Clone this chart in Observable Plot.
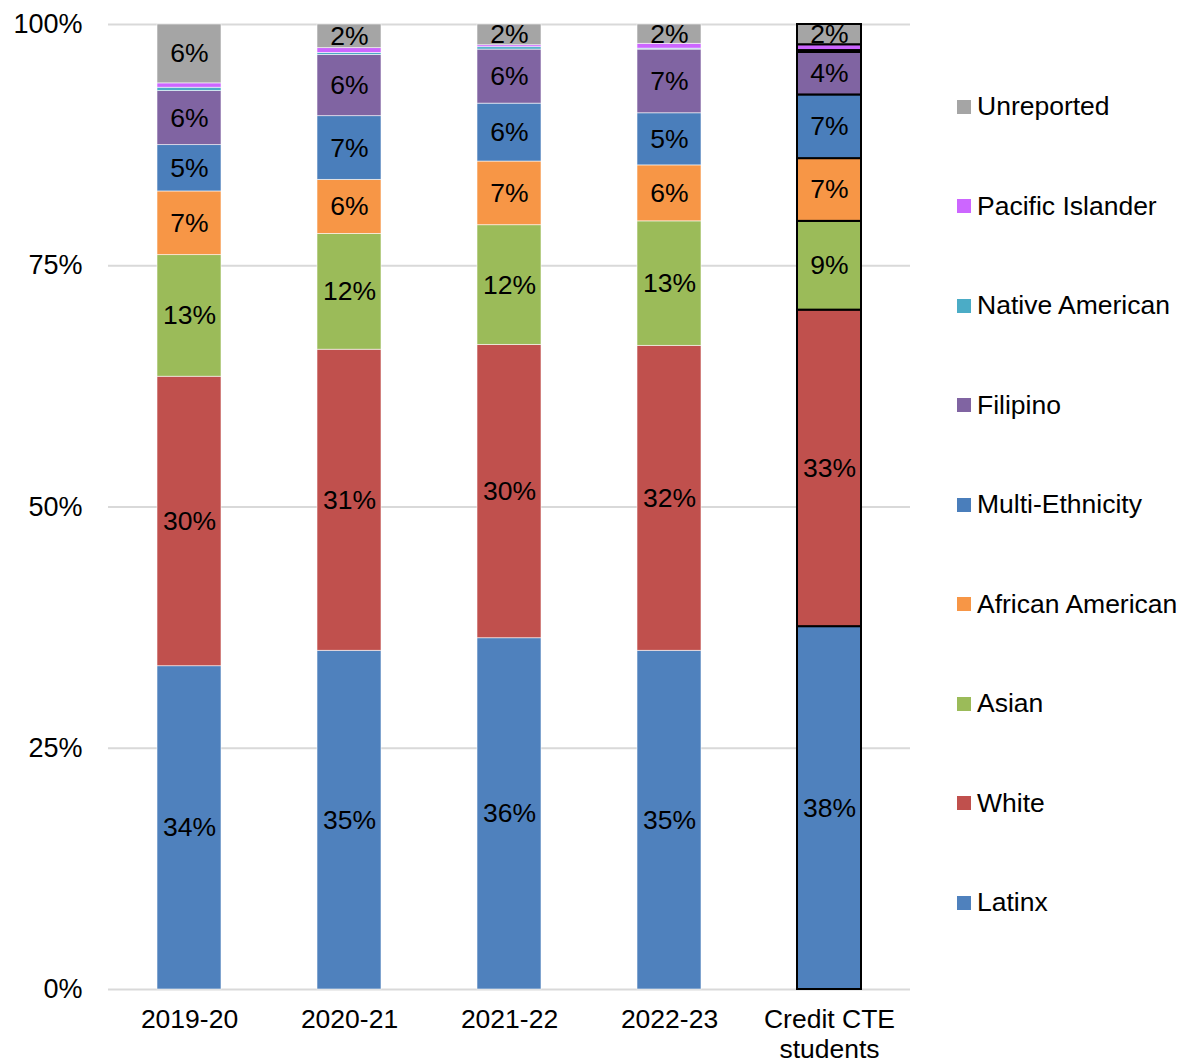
<!DOCTYPE html>
<html>
<head>
<meta charset="utf-8">
<script src="https://cdn.jsdelivr.net/npm/d3@7"></script>
<script src="https://cdn.jsdelivr.net/npm/@observablehq/plot@0.6"></script>
<style>
  html, body { margin: 0; padding: 0; background: #fff; }
  #wrap { position: relative; width: 1190px; height: 1063px; font-family: "Liberation Sans", Arial, sans-serif; }
  #legend { position: absolute; left: 0; top: 0; }
  .li { position: absolute; display: flex; align-items: center; font-size: 26.5px; color: #000; white-space: nowrap; }
  .sw { width: 14px; height: 14px; margin-right: 6px; }
</style>
</head>
<body>
<div id="wrap"><div id="chart"></div><div id="legend"></div></div>
<script>
const years = ["2019-20", "2020-21", "2021-22", "2022-23", "Credit CTE\nstudents"];
const groups = ["Latinx", "White", "Asian", "African American", "Multi-Ethnicity", "Filipino", "Native American", "Pacific Islander", "Unreported"];
const colors = ["#4F81BD", "#C0504D", "#9BBB59", "#F79646", "#4A7EBB", "#8064A2", "#4BACC6", "#CC66FF", "#A5A5A5"];
const unlabeled = ["Native American", "Pacific Islander"];
// values in percent, one array per year, in the order of `groups`
const v2019 = [33.5, 30.0, 12.6, 6.6, 4.8, 5.6, 0.35, 0.45, 6.1];
const v2020 = [35.1, 31.2, 12.0, 5.6, 6.6, 6.35, 0.2, 0.5, 2.45];
const v2021 = [36.4, 30.4, 12.4, 6.6, 6.0, 5.6, 0.25, 0.2, 2.15];
const v2022 = [35.1, 31.6, 12.9, 5.8, 5.4, 6.6, 0.1, 0.5, 2.0];
const vCredit = [37.6, 32.8, 9.2, 6.5, 6.6, 4.4, 0.2, 0.6, 2.1];
const yTicks = [0, 25, 50, 75, 100];

const series = [v2019, v2020, v2021, v2022, vCredit];
const data = [];
years.forEach((yr, i) => groups.forEach((g, j) => data.push({year: yr, group: g, value: series[i][j]})));
const credit = years[4];

const fontFamily = '"Liberation Sans", Arial, sans-serif';
const chart = Plot.plot({
  width: 930,
  height: 1063,
  marginLeft: 108,
  marginRight: 20,
  marginTop: 24,
  marginBottom: 74,
  style: {fontSize: "26.5px", fontFamily, color: "#000", background: "#fff"},
  x: {domain: years, paddingInner: 0.6, paddingOuter: 0.3, label: null},
  y: {domain: [0, 100], label: null},
  color: {domain: groups, range: colors},
  marks: [
    Plot.ruleY(yTicks, {stroke: "#D9D9D9", strokeWidth: 2}),
    Plot.barY(data.filter(d => d.year !== credit), {
      x: "year", y: "value", fill: "group", order: groups,
      stroke: "white", strokeWidth: 0.8, strokeOpacity: 0.7
    }),
    Plot.barY(data.filter(d => d.year === credit), {
      x: "year", y: "value", fill: "group", order: groups,
      stroke: "black", strokeWidth: 2
    }),
    Plot.text(data, Plot.stackY({
      x: "year", y: "value", z: "group", order: groups,
      text: d => unlabeled.includes(d.group) ? "" : Math.round(d.value) + "%",
      fill: "black", fontSize: 26.5
    })),
    Plot.axisY({ticks: yTicks, tickFormat: d => d + "%", tickSize: 0, tickPadding: 26, fontSize: 27}),
    Plot.axisX({tickSize: 0, tickPadding: 17, fontSize: 26.5, lineHeight: 1.13})
  ]
});
document.getElementById("chart").appendChild(chart);

const legend = document.getElementById("legend");
const legendOrder = groups.slice().reverse();
legendOrder.forEach((g, k) => {
  const div = document.createElement("div");
  div.className = "li";
  div.style.left = "957px";
  div.style.top = (106.5 - 16 + k * 99.5) + "px";
  div.style.height = "32px";
  const sw = document.createElement("span");
  sw.className = "sw";
  sw.style.background = colors[groups.indexOf(g)];
  div.appendChild(sw);
  div.appendChild(document.createTextNode(g));
  legend.appendChild(div);
});
</script>
</body>
</html>
